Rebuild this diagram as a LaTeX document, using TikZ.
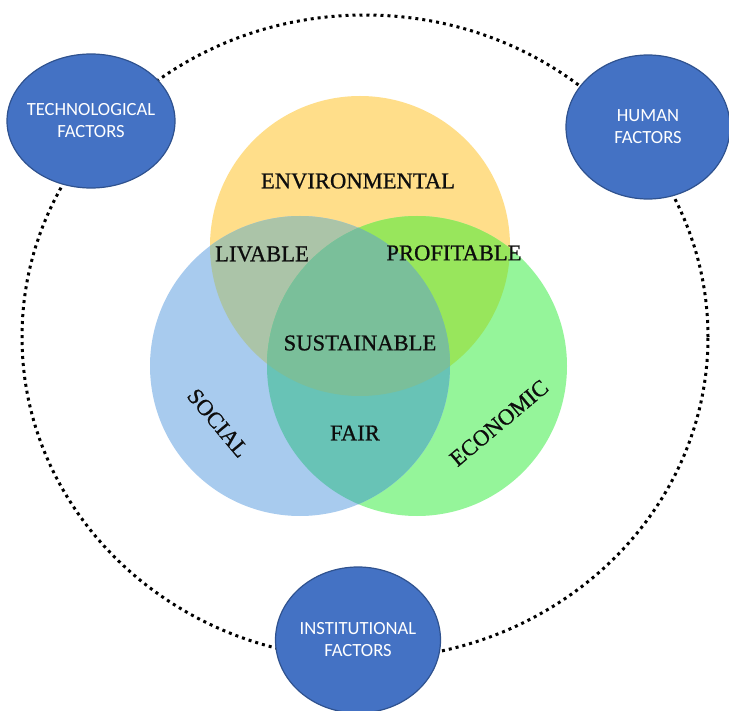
\documentclass[tikz,border=0pt]{standalone}
\usepackage{fontspec}
\setmainfont{Liberation Serif}
\newfontfamily\vennfont[FakeBold=0.8]{Liberation Serif}
\newfontfamily\factorfont{Carlito}
\usetikzlibrary{shapes.geometric}
\definecolor{envyellow}{HTML}{FFDE8A}
\definecolor{socblue}{HTML}{A8CBEE}
\definecolor{ecogreen}{HTML}{95F59A}
\definecolor{livable}{HTML}{ABC4A8}
\definecolor{profitable}{HTML}{98E65C}
\definecolor{fair}{HTML}{68C3B6}
\definecolor{sustain}{HTML}{7ABF9A}
\definecolor{factorblue}{HTML}{4472C4}
\definecolor{factorline}{HTML}{2F528F}

\begin{document}
\begin{tikzpicture}[
    x=0.5pt, y=-0.5pt,
    venn/.style={circle, minimum size=150pt, inner sep=0pt},
    lbl/.style={font=\vennfont\fontsize{11.3}{13}\selectfont, text=black!95, inner sep=1pt},
    factor/.style={ellipse, draw=factorline, line width=0.6pt, fill=factorblue, text=white, align=center,
                   font=\factorfont\fontsize{9.3}{11}\selectfont, inner xsep=-6pt, inner ysep=0pt},
    dotring/.style={line width=1.5pt, dash pattern=on 1.5pt off 2pt}
  ]
  \useasboundingbox (0,0) rectangle (729,711);

  % outer ring
  \draw[dotring] (365,337) ellipse [x radius=171.5pt, y radius=161pt];

  % the three circles
  \node[venn, fill=envyellow] (env) at (360,246) {};
  \node[venn, fill=ecogreen] (eco) at (417,366) {};
  \node[venn, fill=socblue] (soc) at (300,366) {};

  % overlaps
  \begin{scope}
    \clip (env.center) circle [radius=75pt];
    \fill[livable] (soc.center) circle [radius=75pt];
    \fill[profitable] (eco.center) circle [radius=75pt];
  \end{scope}
  \begin{scope}
    \clip (soc.center) circle [radius=75pt];
    \fill[fair] (eco.center) circle [radius=75pt];
    \clip (eco.center) circle [radius=75pt];
    \fill[sustain] (env.center) circle [radius=75pt];
  \end{scope}

  % labels
  \node[lbl] (envlbl) at (358,181) {ENVIRONMENTAL};
  \node[lbl] (livlbl) at (262,254) {LIVABLE};
  \node[lbl] (prolbl) at (454,253) {PROFITABLE};
  \node[lbl] (suslbl) at (360,343) {SUSTAINABLE};
  \node[lbl] (fairlbl) at (355,433) {FAIR};
  \node[lbl, rotate=-50] (soclbl) at (218,423) {SOCIAL};
  \node[lbl, rotate=40] (ecolbl) at (499,423) {ECONOMIC};

  % factors
  \node[factor, minimum width=84pt, minimum height=67pt] (tech) at (91,121) {TECHNOLOGICAL\\FACTORS};
  \node[factor, minimum width=82pt, minimum height=72pt] (human) at (648,127) {HUMAN\\FACTORS};
  \node[factor, minimum width=82.5pt, minimum height=73pt] (inst) at (358,640) {INSTITUTIONAL\\FACTORS};
\end{tikzpicture}
\end{document}
